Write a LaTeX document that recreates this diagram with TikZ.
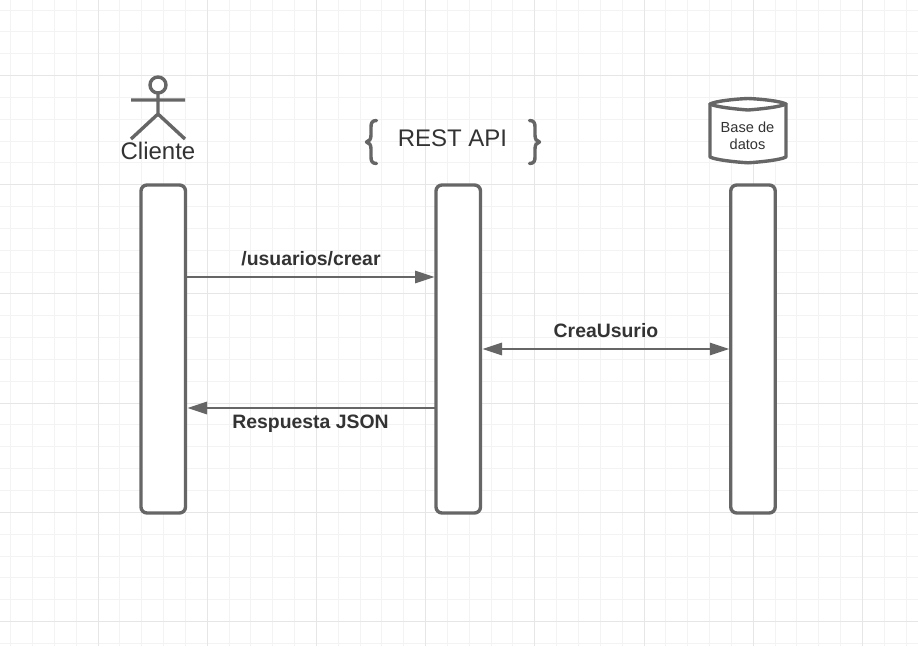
\documentclass[tikz,border=0pt]{standalone}
\usepackage{fontspec}
\setmainfont{Liberation Sans}
\usetikzlibrary{arrows.meta}
\definecolor{shape}{HTML}{666666}
\definecolor{txt}{HTML}{333333}
\definecolor{gridminor}{HTML}{F3F3F3}
\definecolor{gridmajor}{HTML}{E6E6E6}
\tikzset{
  lifeline/.style={draw=shape,line width=3.4pt,fill=white,rounded corners=6pt,minimum width=44.5pt,minimum height=328pt,inner sep=0pt,outer sep=0pt},
  outline/.style={draw=shape,line width=3.4pt,line cap=round,line join=round},
  message/.style={draw=shape,line width=1.6pt},
  tip/.tip={Triangle[length=19.5pt,width=12.5pt]},
  msglabel/.style={text=txt,font=\fontsize{19.4pt}{23pt}\selectfont\bfseries,inner sep=0pt},
  bigtext/.style={text=txt,font=\fontsize{24pt}{28pt}\selectfont,inner sep=0pt},
  dbtext/.style={text=txt,font=\fontsize{14.6pt}{17pt}\selectfont,align=center,inner sep=0pt},
}
\begin{document}
\begin{tikzpicture}[x=1pt,y=-1pt]
\useasboundingbox (0,0) rectangle (918,646);
\fill[white] (0,0) rectangle (918,646);
% grid
\foreach \k in {0,...,41} {\draw[gridminor,line width=1pt] ({10.64+21.84*\k},0) -- ({10.64+21.84*\k},646);}
\foreach \k in {0,...,29} {\draw[gridminor,line width=1pt] (0,{10+21.84*\k}) -- (918,{10+21.84*\k});}
\foreach \k in {0,...,7} {\draw[gridmajor,line width=1pt] ({98+109.2*\k},0) -- ({98+109.2*\k},646);}
\foreach \k in {0,...,5} {\draw[gridmajor,line width=1pt] (0,{75.5+109.2*\k}) -- (918,{75.5+109.2*\k});}
% actor
\draw[outline,line cap=butt,fill=white] (158,85) circle (8);
\draw[outline,line cap=butt] (158,93) -- (158,113) (131,100) -- (185,100) (131,139) -- (158,114) -- (185,139);
\node[bigtext] (cliente) at (158,151) {Cliente};
% REST API
\node[bigtext] (rest) at (452.5,138) {REST API};
\draw[outline] (376.5,120.5) .. controls (372,120.5) and (371,123) .. (371,127) -- (371,135) .. controls (371,139) and (369.5,141.5) .. (366.5,142)
  .. controls (369.5,142.5) and (371,145) .. (371,149) -- (371,157) .. controls (371,161) and (372,163.5) .. (376.5,163.5);
\draw[outline] (529.5,120.5) .. controls (534,120.5) and (535,123) .. (535,127) -- (535,135) .. controls (535,139) and (536.5,141.5) .. (539.5,142)
  .. controls (536.5,142.5) and (535,145) .. (535,149) -- (535,157) .. controls (535,161) and (534,163.5) .. (529.5,163.5);
% database
\draw[outline,fill=white] (710,104) .. controls (716,101) and (735,99) .. (748,98.5) .. controls (761,99) and (780,101) .. (786,104)
  -- (786,157) .. controls (780,160) and (761,162) .. (748,162.8) .. controls (735,162) and (716,160) .. (710,157) -- cycle;
\draw[outline] (710,104) .. controls (716,107) and (735,109) .. (748,110) .. controls (761,109) and (780,107) .. (786,104);
\node[dbtext] (db) at (747.5,135.5) {Base de\\datos};
% lifelines
\node[lifeline] (a) at (163.25,349) {};
\node[lifeline] (b) at (458.25,349) {};
\node[lifeline] (c) at (753,349) {};
% message rows
\coordinate (r1) at (0,277);
\coordinate (r2) at (0,349);
\coordinate (r3) at (0,408);
\draw[message,-{tip}] ([xshift=1.5pt]a.east|-r1) -- ([xshift=-1.5pt]b.west|-r1);
\draw[message,{tip}-{tip}] ([xshift=2pt]b.east|-r2) -- ([xshift=-1.5pt]c.west|-r2);
\draw[message,-{tip}] (b.west|-r3) -- ([xshift=2pt]a.east|-r3);
\node[msglabel] (m1) at (311,259) {/usuarios/crear};
\node[msglabel] (m2) at (606,331) {CreaUsurio};
\node[msglabel] (m3) at (310.5,423.5) {Respuesta JSON};
\end{tikzpicture}
\end{document}
